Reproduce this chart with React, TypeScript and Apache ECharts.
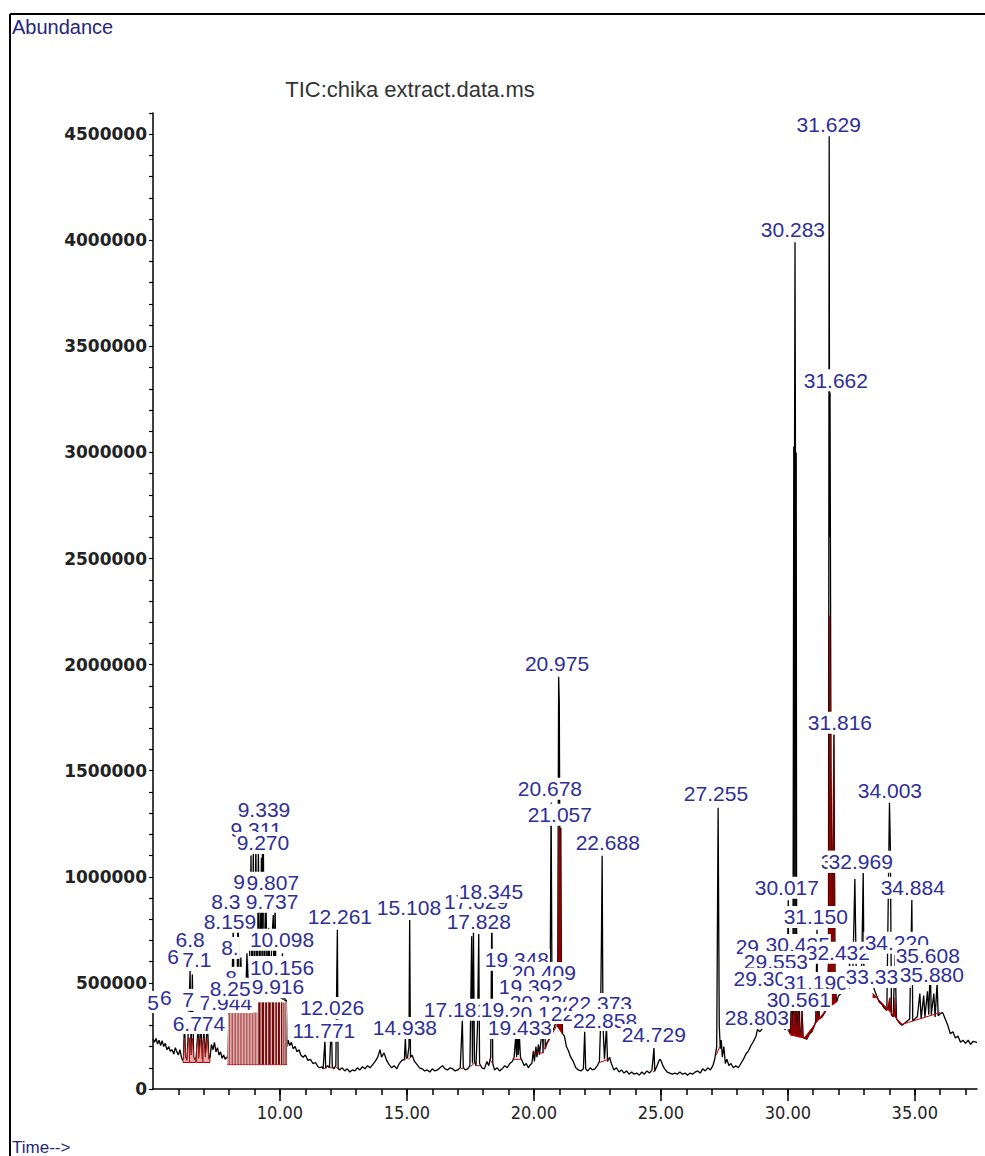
import React, { useEffect, useRef } from "react";
import * as echarts from "echarts";

const TIME_MIN = 5;
const TIME_MAX = 37.45;
const ABUNDANCE_MAX = 4600000;

const xLabelTicks = [10, 15, 20, 25, 30, 35];
const xMinorTicks = [6, 7, 8, 9, 10, 11, 12, 13, 14, 15, 16, 17, 18, 19, 20, 21, 22, 23, 24, 25, 26, 27, 28, 29, 30, 31, 32, 33, 34, 35, 36, 37];
const yLabelTicks = [0, 500000, 1000000, 1500000, 2000000, 2500000, 3000000, 3500000, 4000000, 4500000];
const yMinorTicks = Array.from({ length: 47 }, (_, i) => i * 100000);

// TIC trace: [retention time (min), abundance]
const tic: [number, number][] = [
  [5.00, 235000], [5.06, 220000], [5.12, 238000], [5.18, 212000], [5.24, 230000], [5.30, 205000], [5.36, 228000], [5.42, 200000], [5.48, 215000], [5.55, 185000], [5.62, 200000], [5.68, 178000], [5.75, 185000], [5.82, 165000], [5.88, 195000], [5.94, 175000], [6.00, 160000], [6.06, 185000], [6.12, 150000], [6.16, 135000],
  [6.20, 140000], [6.24, 320000], [6.28, 150000], [6.34, 135000], [6.40, 300000], [6.46, 560000], [6.50, 160000], [6.55, 540000], [6.60, 150000], [6.66, 135000], [6.70, 150000], [6.774, 290000], [6.80, 145000], [6.88, 310000], [6.94, 140000], [7.00, 280000], [7.06, 150000], [7.14, 320000], [7.20, 140000], [7.25, 150000],
  [7.30, 210000], [7.36, 185000], [7.42, 220000], [7.48, 175000], [7.54, 195000], [7.60, 160000], [7.66, 175000], [7.72, 145000], [7.78, 160000], [7.84, 140000], [7.90, 150000],
  [7.95, 140000], [8.00, 400000], [8.04, 380000], [8.10, 420000], [8.159, 760000], [8.20, 390000], [8.25, 500000], [8.30, 385000], [8.35, 850000], [8.40, 395000], [8.46, 620000], [8.52, 390000], [8.58, 520000], [8.64, 400000], [8.70, 640000], [8.76, 395000], [8.82, 700000], [8.86, 1100000], [8.90, 410000], [8.95, 1120000], [9.00, 420000], [9.05, 1150000], [9.10, 430000], [9.15, 1130000], [9.20, 440000], [9.27, 1090000], [9.30, 450000], [9.311, 1190000], [9.339, 1330000], [9.38, 450000], [9.45, 900000], [9.50, 440000], [9.56, 760000], [9.62, 445000], [9.68, 700000], [9.737, 820000], [9.77, 440000], [9.807, 880000], [9.85, 435000], [9.916, 470000], [9.95, 430000], [10.00, 520000], [10.05, 425000], [10.098, 640000], [10.12, 420000], [10.156, 560000], [10.20, 415000], [10.25, 420000], [10.28, 200000],
  [10.32, 230000], [10.38, 205000], [10.45, 220000], [10.52, 190000], [10.60, 200000], [10.67, 175000], [10.75, 185000], [10.82, 160000], [10.91, 150000], [11.00, 160000], [11.10, 135000], [11.20, 140000], [11.30, 120000], [11.40, 125000], [11.50, 105000], [11.57, 100000], [11.65, 105000], [11.70, 95000], [11.771, 230000], [11.80, 100000], [11.88, 110000], [11.95, 100000], [12.026, 325000], [12.06, 105000], [12.12, 95000], [12.20, 110000], [12.24, 560000], [12.261, 750000], [12.29, 100000], [12.35, 90000], [12.45, 100000], [12.55, 85000], [12.65, 95000], [12.75, 80000], [12.85, 90000], [12.95, 85000],
  [13.05, 100000], [13.15, 90000], [13.25, 105000], [13.35, 95000], [13.45, 110000], [13.55, 100000], [13.65, 115000], [13.75, 130000], [13.85, 150000], [13.94, 185000], [14.00, 150000], [14.10, 170000], [14.20, 135000], [14.30, 115000], [14.40, 100000], [14.50, 110000], [14.60, 95000], [14.70, 120000], [14.80, 135000], [14.90, 140000], [14.938, 240000], [14.97, 150000], [15.02, 145000], [15.08, 200000], [15.108, 797000], [15.14, 150000], [15.20, 160000], [15.30, 130000], [15.40, 115000], [15.50, 100000], [15.60, 95000], [15.70, 85000], [15.80, 90000], [15.90, 80000],
  [16.00, 95000], [16.10, 85000], [16.20, 90000], [16.30, 100000], [16.40, 110000], [16.50, 95000], [16.60, 90000], [16.70, 100000], [16.80, 95000], [16.90, 85000], [17.00, 90000], [17.10, 100000], [17.181, 325000], [17.22, 100000], [17.30, 90000], [17.40, 95000], [17.48, 110000], [17.55, 720000], [17.58, 120000], [17.62, 740000], [17.66, 130000], [17.72, 110000], [17.78, 300000], [17.828, 730000], [17.86, 120000], [17.95, 100000], [18.05, 95000], [18.15, 130000], [18.22, 110000], [18.30, 150000], [18.345, 880000], [18.38, 120000], [18.45, 90000], [18.55, 100000], [18.65, 85000], [18.75, 95000], [18.85, 110000], [18.95, 100000],
  [19.05, 120000], [19.15, 130000], [19.22, 150000], [19.28, 240000], [19.32, 150000], [19.348, 550000], [19.38, 160000], [19.433, 240000], [19.47, 150000], [19.55, 130000], [19.62, 110000], [19.70, 120000], [19.78, 100000], [19.86, 115000], [19.92, 120000], [19.98, 180000], [20.02, 130000], [20.08, 200000], [20.12, 150000], [20.18, 210000], [20.22, 160000], [20.28, 230000], [20.32, 380000], [20.36, 170000], [20.409, 490000], [20.45, 190000], [20.52, 220000], [20.58, 230000], [20.63, 250000], [20.678, 1350000], [20.72, 270000], [20.80, 290000], [20.88, 320000], [20.94, 600000], [20.975, 1943000], [21.00, 1820000], [21.03, 900000], [21.057, 1231000], [21.09, 400000], [21.13, 260000], [21.20, 250000], [21.28, 200000], [21.36, 180000], [21.45, 150000], [21.55, 130000], [21.65, 100000], [21.75, 90000], [21.85, 85000], [21.95, 95000],
  [22.00, 270000], [22.04, 95000], [22.12, 85000], [22.22, 100000], [22.30, 90000], [22.40, 95000], [22.50, 110000], [22.58, 130000], [22.62, 280000], [22.66, 700000], [22.688, 1099000], [22.72, 300000], [22.78, 140000], [22.858, 290000], [22.90, 130000], [22.98, 150000], [23.05, 120000], [23.15, 90000], [23.25, 100000], [23.35, 80000], [23.45, 90000], [23.55, 75000], [23.65, 85000], [23.75, 70000], [23.85, 80000], [23.95, 70000], [24.05, 75000], [24.15, 65000], [24.25, 80000], [24.35, 70000], [24.45, 85000], [24.55, 75000], [24.65, 90000], [24.729, 193000], [24.76, 85000], [24.85, 110000], [24.95, 140000],
  [25.00, 135000], [25.08, 110000], [25.15, 95000], [25.25, 80000], [25.35, 75000], [25.45, 70000], [25.55, 75000], [25.65, 70000], [25.75, 80000], [25.85, 70000], [25.95, 75000], [26.05, 65000], [26.15, 75000], [26.25, 70000], [26.35, 80000], [26.45, 85000], [26.55, 75000], [26.65, 95000], [26.75, 85000], [26.85, 100000], [26.95, 90000], [27.05, 110000], [27.12, 140000], [27.20, 200000], [27.255, 1325000], [27.30, 300000], [27.34, 190000], [27.38, 230000], [27.42, 150000], [27.48, 200000], [27.54, 120000], [27.60, 140000], [27.68, 110000], [27.76, 120000], [27.85, 100000], [27.95, 110000],
  [28.05, 100000], [28.15, 120000], [28.25, 140000], [28.35, 165000], [28.45, 180000], [28.55, 205000], [28.65, 225000], [28.75, 250000], [28.803, 280000], [28.90, 270000], [29.00, 285000], [29.10, 300000], [29.20, 310000], [29.30, 330000], [29.40, 340000], [29.50, 330000], [29.553, 552000], [29.60, 320000], [29.70, 300000], [29.80, 290000], [29.90, 280000], [29.96, 300000], [30.017, 890000], [30.05, 270000], [30.10, 260000], [30.15, 450000], [30.20, 280000], [30.235, 3028000], [30.25, 350000], [30.265, 3028000], [30.283, 3991000], [30.30, 3000000], [30.315, 350000], [30.33, 3000000], [30.35, 300000], [30.40, 290000], [30.435, 632000], [30.47, 270000], [30.52, 260000], [30.561, 373000], [30.60, 250000], [30.65, 240000], [30.75, 235000], [30.85, 260000], [30.95, 270000],
  [31.05, 300000], [31.10, 320000], [31.15, 750000], [31.17, 320000], [31.19, 458000], [31.25, 330000], [31.35, 340000], [31.45, 360000], [31.55, 380000], [31.60, 600000], [31.629, 4491000], [31.645, 2600000], [31.662, 3283000], [31.70, 1500000], [31.75, 700000], [31.816, 1670000], [31.86, 500000], [31.92, 410000], [32.00, 440000], [32.10, 450000], [32.20, 460000], [32.30, 470000], [32.40, 480000], [32.432, 599000], [32.47, 480000], [32.55, 490000], [32.64, 990000], [32.70, 500000], [32.80, 490000], [32.90, 500000], [32.969, 1024000],
  [33.00, 500000], [33.10, 480000], [33.20, 490000], [33.33, 520000], [33.40, 470000], [33.50, 440000], [33.60, 410000], [33.70, 400000], [33.80, 380000], [33.90, 370000], [34.003, 1349000], [34.04, 1127000], [34.08, 350000], [34.15, 340000], [34.22, 632000], [34.28, 330000], [34.40, 310000], [34.50, 300000], [34.60, 310000], [34.70, 320000], [34.80, 330000], [34.884, 891000], [34.92, 320000],
  [35.00, 330000], [35.10, 340000], [35.20, 450000], [35.25, 330000], [35.35, 440000], [35.40, 340000], [35.50, 460000], [35.55, 350000], [35.608, 575000], [35.65, 350000], [35.75, 450000], [35.80, 340000], [35.88, 500000], [35.92, 345000], [36.00, 355000], [36.10, 360000], [36.20, 330000], [36.30, 300000], [36.40, 260000], [36.50, 270000], [36.60, 240000], [36.70, 250000], [36.80, 220000], [36.90, 230000], [37.00, 215000], [37.10, 230000], [37.20, 210000], [37.30, 225000], [37.45, 220000],
];

// Peak labels: [text, time, abundance] in drawing order (later ones cover earlier ones)
const peakLabels: [string, number, number][] = [
  ["31.629", 31.61, 4547000], ["30.283", 30.20, 4052000], ["31.662", 31.89, 3340000], ["20.975", 20.91, 2005000],
  ["31.816", 32.05, 1726000], ["27.255", 27.17, 1392000], ["34.003", 34.02, 1406000], ["20.678", 20.63, 1415000],
  ["21.057", 21.02, 1292000], ["9.339", 9.37, 1316000], ["22.688", 22.91, 1160000], ["9.311", 9.06, 1222000],
  ["9.270", 9.33, 1160000], ["32.640", 32.56, 1071000], ["32.969", 32.87, 1071000], ["9", 8.39, 976000],
  ["9.807", 9.72, 972000], ["17.629", 17.72, 882000], ["18.345", 18.31, 929000], ["17.828", 17.83, 788000],
  ["30.017", 29.96, 948000], ["34.884", 34.92, 948000], ["8.159", 8.03, 788000], ["8.3", 7.87, 882000],
  ["9.737", 9.69, 882000], ["12.261", 12.36, 811000], ["15.108", 15.08, 854000], ["31.150", 31.10, 811000],
  ["6.8", 6.46, 703000], ["8.", 8.03, 665000], ["10.098", 10.08, 703000], ["6", 5.79, 623000], ["7.1", 6.73, 608000],
  ["8.", 8.19, 524000], ["10.156", 10.08, 575000], ["7.944", 7.87, 410000], ["8.253", 8.27, 472000], ["9.916", 9.92, 481000],
  ["7", 6.38, 420000], ["6", 5.51, 429000], ["5", 5.0, 410000], ["6.774", 6.81, 311000],
  ["12.026", 12.05, 382000], ["11.771", 11.73, 274000], ["14.938", 14.92, 288000], ["17.181", 16.93, 373000],
  ["19.292", 19.17, 373000], ["19.348", 19.33, 609000], ["20.409", 20.39, 547000], ["19.392", 19.88, 481000],
  ["20.320", 20.31, 410000], ["20.132", 20.28, 358000], ["19.433", 19.45, 288000], ["22.005", 21.93, 358000],
  ["22.373", 22.60, 401000], ["22.858", 22.80, 325000], ["24.729", 24.72, 255000],
  ["29.417", 29.21, 670000], ["30.435", 30.39, 679000], ["32.432", 31.97, 642000], ["34.220", 34.29, 689000],
  ["35.608", 35.51, 627000], ["29.553", 29.53, 599000], ["29.305", 29.13, 519000], ["31.190", 31.10, 500000],
  ["33.339", 33.54, 528000], ["35.880", 35.67, 542000], ["30.561", 30.43, 420000], ["28.803", 28.78, 335000],
];

// Integration events: [start, end, baseline at start, baseline at end, fill cap, kind]
const integrations: [number, number, number, number, number, string][] = [
  [6.18, 6.44, 125000, 125000, 240000, "pink"], [6.44, 6.68, 125000, 125000, 240000, "pink"],
  [6.72, 6.97, 125000, 125000, 240000, "pink"], [6.97, 7.24, 125000, 125000, 240000, "pink"],
  [7.93, 7.99, 115000, 115000, 360000, "blockL"], [7.99, 8.05, 115000, 115000, 360000, "blockL"], [8.05, 8.11, 115000, 115000, 360000, "blockL"],
  [8.11, 8.17, 115000, 115000, 360000, "blockL"], [8.17, 8.23, 115000, 115000, 360000, "blockL"], [8.23, 8.29, 115000, 115000, 360000, "blockL"],
  [8.29, 8.35, 115000, 115000, 360000, "blockL"], [8.35, 8.41, 115000, 115000, 360000, "blockL"], [8.41, 8.47, 115000, 115000, 360000, "blockL"],
  [8.47, 8.53, 115000, 115000, 360000, "blockL"], [8.53, 8.59, 115000, 115000, 360000, "blockL"], [8.59, 8.65, 115000, 115000, 360000, "blockL"],
  [8.65, 8.71, 115000, 115000, 360000, "blockL"], [8.71, 8.77, 115000, 115000, 360000, "blockL"], [8.77, 8.83, 115000, 115000, 360000, "blockL"],
  [8.83, 8.89, 115000, 115000, 360000, "blockL"], [8.89, 8.95, 115000, 115000, 360000, "blockL"], [8.95, 9.01, 115000, 115000, 360000, "blockL"],
  [9.01, 9.07, 115000, 115000, 360000, "blockL"], [9.07, 9.13, 115000, 115000, 360000, "blockL"],
  [9.13, 9.26, 115000, 115000, 410000, "block"], [9.26, 9.40, 115000, 115000, 410000, "block"], [9.40, 9.52, 115000, 115000, 410000, "block"],
  [9.52, 9.66, 115000, 115000, 410000, "block"], [9.66, 9.80, 115000, 115000, 410000, "block"], [9.80, 9.90, 115000, 115000, 410000, "block"],
  [9.90, 10.02, 115000, 115000, 410000, "block"], [10.02, 10.12, 115000, 115000, 410000, "block"], [10.12, 10.20, 115000, 115000, 410000, "block"],
  [10.20, 10.28, 115000, 115000, 410000, "block"],
  [11.70, 11.84, 95000, 100000, 0, "base"], [11.97, 12.08, 100000, 100000, 0, "base"], [12.20, 12.32, 105000, 90000, 0, "base"],
  [14.88, 14.99, 135000, 145000, 0, "base"], [15.05, 15.16, 140000, 150000, 0, "base"], [17.12, 17.24, 95000, 100000, 0, "base"],
  [17.50, 17.68, 105000, 125000, 0, "base"], [17.74, 17.90, 110000, 110000, 0, "base"], [18.26, 18.40, 140000, 115000, 0, "base"],
  [19.20, 19.50, 140000, 140000, 0, "base"], [19.95, 20.38, 170000, 170000, 0, "base"], [20.40, 20.90, 185000, 300000, 0, "base"],
  [20.90, 21.12, 300000, 260000, 1230000, "dark"], [22.58, 22.95, 125000, 140000, 0, "base"], [24.68, 24.78, 80000, 85000, 0, "base"],
  [27.18, 27.32, 160000, 200000, 0, "base"], [29.98, 30.10, 280000, 260000, 0, "base"],
  [30.10, 30.65, 255000, 240000, 373000, "dark"], [30.65, 31.55, 240000, 380000, 400000, "dark"], [31.55, 31.92, 380000, 410000, 2230000, "dark"],
  [32.38, 32.50, 470000, 480000, 0, "base"], [33.35, 34.50, 450000, 305000, 430000, "dark"], [34.50, 36.00, 305000, 360000, 0, "base"],
];

function traceAt(t: number): number {
  for (let i = 0; i < tic.length - 1; i++) {
    const [t0, v0] = tic[i];
    const [t1, v1] = tic[i + 1];
    if (t >= t0 && t <= t1) return v0 + ((v1 - v0) * (t - t0)) / (t1 - t0);
  }
  return tic[tic.length - 1][1];
}

const LABEL_FONT = "'Liberation Sans', Arial, Helvetica, sans-serif";
const AXIS_COLOR = "#000";

export default function App() {
  const ref = useRef<HTMLDivElement>(null);
  useEffect(() => {
    if (!ref.current) return;
    const chart = echarts.init(ref.current, undefined, { renderer: "svg" });

    const renderItem = (params: any, api: any) => {
      const [t0, t1, b0, b1, cap, kind] = integrations[params.dataIndex];
      const p0 = api.coord([t0, b0]);
      const p1 = api.coord([t1, b1]);
      const children: any[] = [];
      if (kind !== "base") {
        const pts: number[][] = [];
        pts.push(api.coord([t0, Math.min(traceAt(t0), cap)]));
        for (const [t, v] of tic) if (t > t0 && t < t1) pts.push(api.coord([t, Math.min(v, cap)]));
        pts.push(api.coord([t1, Math.min(traceAt(t1), cap)]));
        pts.push(p1);
        pts.push(p0);
        let style: any;
        if (kind === "pink") style = { fill: "#eba7a7", stroke: "#9e1a1a", lineWidth: 1 };
        else if (kind === "blockL") style = { fill: "#7d0c0c", stroke: "#f2c4c4", lineWidth: 0.8 };
        else if (kind === "block") style = { fill: "#760707", stroke: "#ffffff", lineWidth: 0.7 };
        else style = { fill: "#8b0000", stroke: "#8b0000", lineWidth: 0.5 };
        children.push({ type: "polygon", shape: { points: pts }, style });
      }
      children.push({
        type: "line",
        shape: { x1: p0[0], y1: p0[1], x2: p1[0], y2: p1[1] },
        style: { stroke: "#c00000", lineWidth: 1 },
      });
      return { type: "group", children };
    };

    const option: any = {
      animation: false,
      backgroundColor: "#ffffff",
      grid: { left: 153, right: 8, top: 113, bottom: 67, containLabel: false },
      xAxis: [
        {
          type: "value",
          min: TIME_MIN,
          max: TIME_MAX,
          axisLine: { show: true, lineStyle: { color: AXIS_COLOR, width: 1.5 } },
          axisTick: { show: true, customValues: xMinorTicks, length: 6, lineStyle: { color: AXIS_COLOR, width: 1.5 } },
          axisLabel: {
            show: true,
            customValues: xLabelTicks,
            formatter: (v: number) => v.toFixed(2),
            color: "#222",
            fontSize: 18,
            fontFamily: "'Liberation Sans Narrow', 'DejaVu Sans Condensed', 'Liberation Sans', sans-serif",
            margin: 14,
          },
          splitLine: { show: false },
        },
        {
          type: "value",
          min: TIME_MIN,
          max: TIME_MAX,
          position: "bottom",
          axisLine: { show: false },
          axisTick: { show: true, customValues: xLabelTicks, length: 12, lineStyle: { color: AXIS_COLOR, width: 1.5 } },
          axisLabel: { show: false },
          splitLine: { show: false },
        },
      ],
      yAxis: {
        type: "value",
        min: 0,
        max: ABUNDANCE_MAX,
        axisLine: { show: true, lineStyle: { color: AXIS_COLOR, width: 1.5 } },
        axisTick: { show: true, customValues: yMinorTicks, length: 4, lineStyle: { color: AXIS_COLOR, width: 1.2 } },
        axisLabel: {
          show: true,
          customValues: yLabelTicks,
          formatter: (v: number) => String(v),
          color: "#222",
          fontSize: 17,
          fontWeight: "bold",
          fontFamily: "'DejaVu Sans', Verdana, sans-serif",
          margin: 6,
        },
        splitLine: { show: false },
      },
      graphic: [
        { type: "line", shape: { x1: 10, y1: 14, x2: 985, y2: 14 }, style: { stroke: "#000", lineWidth: 2 } },
        { type: "line", shape: { x1: 10, y1: 14, x2: 10, y2: 1156 }, style: { stroke: "#000", lineWidth: 2 } },
        { type: "text", x: 12, y: 27, style: { text: "Abundance", fill: "#26267a", fontSize: 20, fontFamily: LABEL_FONT, verticalAlign: "middle" } },
        { type: "text", x: 410, y: 89, style: { text: "TIC:chika extract.data.ms", fill: "#333", fontSize: 22, fontFamily: LABEL_FONT, align: "center", verticalAlign: "middle" } },
        { type: "text", x: 12, y: 1147, style: { text: "Time-->", fill: "#26267a", fontSize: 17, fontFamily: LABEL_FONT, verticalAlign: "middle" } },
      ],
      series: [
        {
          type: "line",
          name: "TIC",
          data: tic,
          showSymbol: false,
          symbol: "none",
          lineStyle: { color: "#000", width: 1.3 },
          z: 2,
          silent: true,
          clip: true,
        },
        {
          type: "custom",
          name: "integration",
          data: integrations.map((e) => [e[0], e[2]]),
          renderItem,
          z: 3,
          silent: true,
        },
        {
          type: "scatter",
          name: "labels",
          data: peakLabels.map(([text, t, v]) => ({ value: [t, v], name: text })),
          symbolSize: 1,
          itemStyle: { color: "rgba(255,255,255,0)", opacity: 1 },
          clip: false,
          silent: true,
          z: 5,
          label: {
            show: true,
            position: "inside",
            formatter: (p: any) => p.name,
            color: "#2e2e96",
            opacity: 1,
            fontSize: 21,
            fontFamily: LABEL_FONT,
            backgroundColor: "#ffffff",
            padding: [2, 1],
            lineHeight: 18,
          },
          labelLayout: { hideOverlap: false },
          emphasis: { disabled: true },
        },
      ],
    };
    chart.setOption(option);
    return () => chart.dispose();
  }, []);
  return (
    <div
      ref={ref}
      style={{ position: "absolute", left: 0, top: 0, width: 985, height: 1156, background: "#fff" }}
    />
  );
}
